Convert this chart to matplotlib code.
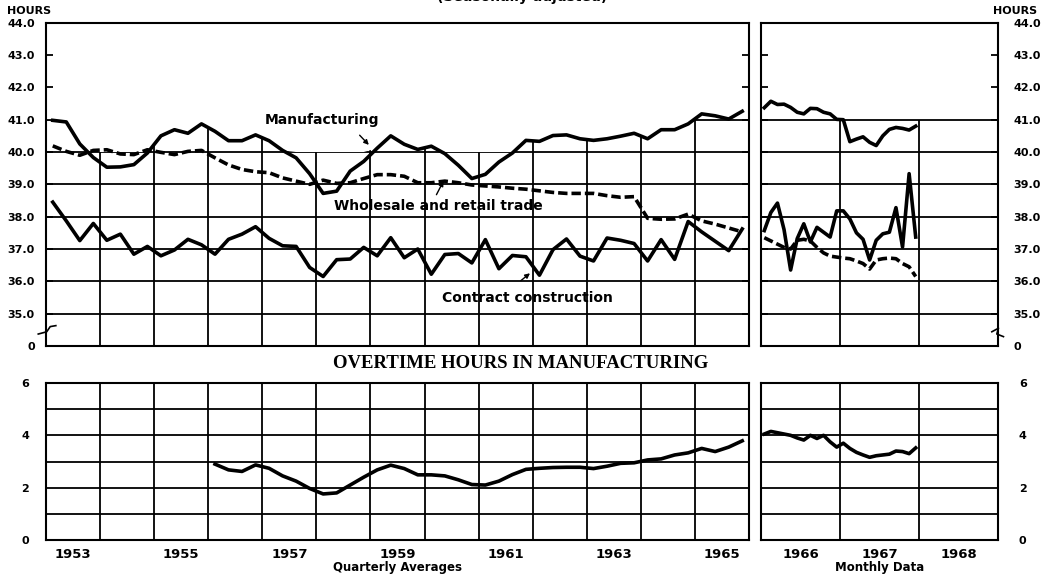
import numpy as np
import matplotlib
matplotlib.use('Agg')
from matplotlib import pyplot as plt
from matplotlib.patches import Polygon

# quarterly averages 1953 Q1 - 1965 Q4
years_q = list(range(1953, 1966))
manuf = [40.98, 40.93, 40.25, 39.83,
         39.53, 39.54, 39.61, 39.97,
         40.50, 40.69, 40.58, 40.87,
         40.64, 40.35, 40.35, 40.53,
         40.35, 40.05, 39.82, 39.33,
         38.72, 38.79, 39.41, 39.71,
         40.12, 40.50, 40.24, 40.08,
         40.18, 39.95, 39.59, 39.18,
         39.31, 39.69, 39.97, 40.36,
         40.33, 40.51, 40.53, 40.41,
         40.36, 40.41, 40.49, 40.58,
         40.41, 40.69, 40.69, 40.87,
         41.18, 41.12, 41.02, 41.26]
trade = [40.19, 40.02, 39.90, 40.05,
         40.07, 39.94, 39.92, 40.07,
         39.99, 39.92, 40.02, 40.05,
         39.82, 39.60, 39.46, 39.39,
         39.36, 39.20, 39.10, 39.00,
         39.13, 39.03, 39.05, 39.18,
         39.30, 39.30, 39.25, 39.05,
         39.05, 39.10, 39.05, 38.98,
         38.95, 38.92, 38.88, 38.85,
         38.80, 38.75, 38.72, 38.72,
         38.72, 38.65, 38.60, 38.62,
         37.95, 37.92, 37.93, 38.08,
         37.87, 37.77, 37.65, 37.53]
constr = [38.45, 37.87, 37.26, 37.79,
          37.27, 37.46, 36.84, 37.08,
          36.79, 36.97, 37.30, 37.13,
          36.84, 37.30, 37.46, 37.69,
          37.33, 37.10, 37.08, 36.43,
          36.15, 36.67, 36.69, 37.05,
          36.79, 37.35, 36.73, 37.00,
          36.22, 36.83, 36.86, 36.57,
          37.29, 36.39, 36.80, 36.76,
          36.19, 36.98, 37.31, 36.78,
          36.63, 37.34, 37.27, 37.17,
          36.63, 37.29, 36.68, 37.85,
          37.53, 37.24, 36.95, 37.62]
# overtime, quarterly from 1956 Q1
years_ot = list(range(1956, 1966))
overtime = [2.90, 2.68, 2.62, 2.87,
            2.74, 2.45, 2.25, 1.97,
            1.76, 1.80, 2.10, 2.40,
            2.68, 2.86, 2.73, 2.49,
            2.49, 2.45, 2.30, 2.12,
            2.10, 2.25, 2.50, 2.70,
            2.74, 2.77, 2.78, 2.78,
            2.73, 2.82, 2.93, 2.95,
            3.06, 3.10, 3.25, 3.33,
            3.50, 3.38, 3.55, 3.79]

# monthly data Jan 1966 - Dec 1967
years_m = [1966, 1967]
m_manuf = [41.37, 41.57, 41.47, 41.48, 41.38, 41.23, 41.18, 41.35, 41.34, 41.23, 41.18, 41.01,
           41.00, 40.32, 40.40, 40.47, 40.30, 40.20, 40.50, 40.70, 40.76, 40.73, 40.68, 40.80]
m_constr = [37.57, 38.13, 38.42, 37.60, 36.35, 37.32, 37.78, 37.22, 37.67, 37.52, 37.37, 38.18,
            38.18, 37.93, 37.50, 37.30, 36.66, 37.27, 37.47, 37.52, 38.28, 37.06, 39.33, 37.37]
m_trade = [37.35, 37.25, 37.15, 37.05, 37.00, 37.27, 37.30, 37.25, 37.05, 36.88, 36.78, 36.75,
           36.72, 36.70, 36.63, 36.55, 36.38, 36.66, 36.70, 36.72, 36.70, 36.55, 36.45, 36.15]
m_overtime = [4.05, 4.15, 4.10, 4.05, 4.00, 3.90, 3.82, 4.00, 3.88, 4.00, 3.75, 3.55,
              3.70, 3.50, 3.35, 3.25, 3.16, 3.22, 3.25, 3.28, 3.40, 3.38, 3.30, 3.52]

qx = [y + (q + 0.5) / 4 for y in years_q for q in range(4)]
otx = [y + (q + 0.5) / 4 for y in years_ot for q in range(4)]
mx = [y + (m + 0.5) / 12 for y in years_m for m in range(12)]

plt.rcParams['font.family'] = 'DejaVu Sans'
plt.rcParams['font.weight'] = 'bold'
plt.rcParams['axes.labelweight'] = 'bold'

W, H = 1051, 582
def box(x0, y0, x1, y1):
    return [x0 / W, 1 - y1 / H, (x1 - x0) / W, (y1 - y0) / H]

fig = plt.figure(figsize=(W / 100, H / 100), dpi=100)
ax1 = fig.add_axes(box(46, 22.7, 749, 346))
ax2 = fig.add_axes(box(761, 22.7, 998, 346))
ax3 = fig.add_axes(box(46, 383, 749, 540))
ax4 = fig.add_axes(box(761, 383, 998, 540))

LW = 2.6
GW = 1.3
dash = (2.6, 1.1)

for ax in (ax1, ax2, ax3, ax4):
    for s in ax.spines.values():
        s.set_linewidth(1.5)

# ---- top left: average weekly hours, quarterly
ax1.set_xlim(1953, 1966)
ax1.set_ylim(34, 44)
# grid only below the manufacturing curve (or 40.0)
edge_x = [1953] + qx + [1966]
edge_y = np.maximum([manuf[0]] + manuf + [manuf[-1]], 40)
clip = Polygon(list(zip(edge_x, edge_y)) + [(1966, 34), (1953, 34)], closed=True,
               transform=ax1.transData)
hl = ax1.hlines(range(35, 42), 1953, 1966, color='k', lw=GW)
vl = ax1.vlines(range(1954, 1966), 34, 42, color='k', lw=GW)
hl.set_clip_path(clip)
vl.set_clip_path(clip)

ax1.plot(qx, manuf, color='k', lw=LW, solid_joinstyle='round')
ax1.plot(qx, trade, color='k', lw=LW, dashes=dash)
ax1.plot(qx, constr, color='k', lw=LW, solid_joinstyle='round')

ax1.text(1958.1, 40.98, 'Manufacturing', fontsize=10, ha='center', va='center')
ax1.text(1960.25, 38.32, 'Wholesale and retail trade', fontsize=10, ha='center', va='center')
ax1.text(1961.91, 35.47, 'Contract construction', fontsize=10, ha='center', va='center')
arw = dict(arrowstyle='-|>', color='k', lw=1.0, mutation_scale=7, shrinkA=0, shrinkB=0)
ax1.annotate('', xy=(1958.97, 40.22), xytext=(1958.8, 40.52), arrowprops=arw)
ax1.annotate('', xy=(1960.35, 39.1), xytext=(1960.22, 38.68), arrowprops=arw)
ax1.annotate('', xy=(1961.95, 36.25), xytext=(1961.78, 36.02), arrowprops=arw)

ax1.set_yticks(range(34, 45))
ax1.set_yticklabels(['0'] + ['%.1f' % v for v in range(35, 45)])
ax1.set_xticks([])
ax1.tick_params(axis='y', direction='in', length=5, width=1.3, left=True, right=True,
                labelsize=8, pad=8)
ax1.plot([-0.011, 0.001, 0.006, 0.014], [0.037, 0.044, 0.06, 0.063],
         transform=ax1.transAxes, clip_on=False, color='k', lw=1.2)

# ---- top right: monthly
ax2.set_xlim(1966, 1969)
ax2.set_ylim(34, 44)
ax2.hlines(range(35, 42), 1966, 1969, color='k', lw=GW)
ax2.vlines([1967, 1968], 34, 41, color='k', lw=GW)
ax2.plot(mx, m_manuf, color='k', lw=LW, solid_joinstyle='round')
ax2.plot(mx, m_trade, color='k', lw=LW, dashes=dash)
ax2.plot(mx, m_constr, color='k', lw=LW, solid_joinstyle='round')
ax2.set_yticks(range(34, 45))
ax2.set_yticklabels(['0'] + ['%.1f' % v for v in range(35, 45)])
ax2.set_xticks([])
ax2.tick_params(axis='y', direction='in', length=5, width=1.3, left=True, right=True,
                labelleft=False, labelright=True, labelsize=8, pad=11)
ax2.plot([0.974, 1.002, 0.995, 1.023], [0.044, 0.055, 0.037, 0.029],
         transform=ax2.transAxes, clip_on=False, color='k', lw=1.2)

# ---- bottom left: overtime quarterly
ax3.set_xlim(1953, 1966)
ax3.set_ylim(0, 6)
ax3.hlines(range(1, 6), 1953, 1966, color='k', lw=GW)
ax3.vlines(range(1954, 1966), 0, 6, color='k', lw=GW)
ax3.plot(otx, overtime, color='k', lw=LW, solid_joinstyle='round')
ax3.set_yticks([0, 2, 4, 6])
ax3.set_xticks([y + 0.5 for y in years_q[::2]])
ax3.set_xticklabels([str(y) for y in years_q[::2]])
ax3.tick_params(axis='y', length=0, labelsize=8, pad=12)
ax3.tick_params(axis='x', length=0, labelsize=9.5, pad=6)
ax3.set_xlabel('Quarterly Averages', fontsize=8.5, labelpad=0)

# ---- bottom right: overtime monthly
ax4.set_xlim(1966, 1969)
ax4.set_ylim(0, 6)
ax4.hlines(range(1, 6), 1966, 1969, color='k', lw=GW)
ax4.vlines([1967, 1968], 0, 6, color='k', lw=GW)
ax4.plot(mx, m_overtime, color='k', lw=LW, solid_joinstyle='round')
ax4.set_yticks([0, 2, 4, 6])
ax4.set_xticks([1966.5, 1967.5, 1968.5])
ax4.set_xticklabels(['1966', '1967', '1968'])
ax4.tick_params(axis='y', length=0, left=False, labelleft=False, labelright=True,
                labelsize=8, pad=15)
ax4.tick_params(axis='x', length=0, labelsize=9.5, pad=6)
ax4.set_xlabel('Monthly Data', fontsize=8.5, labelpad=0)

fig.text(7 / W, 1 - 11.5 / H, 'HOURS', fontsize=8, ha='left', va='center')
fig.text(993 / W, 1 - 11.5 / H, 'HOURS', fontsize=8, ha='left', va='center')
# the subtitle is cut by the top edge in the reference, only its lowest part shows
fig.text(522 / W, 1 - 0.5 / H, '(Seasonally adjusted)', fontsize=10, ha='center', va='baseline')
fig.text(521 / W, 1 - 363 / H, 'OVERTIME HOURS IN MANUFACTURING', family='Liberation Serif',
         fontsize=13.5, ha='center', va='center')

fig.savefig('out.png', dpi=100)
